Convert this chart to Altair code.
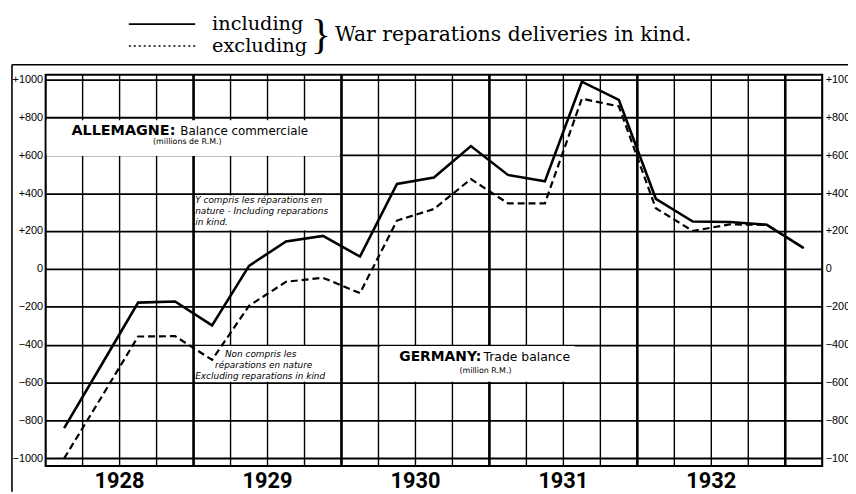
import altair as alt
import pandas as pd

# Quarterly data, Q1 1928 .. Q1 1933 (millions RM)
quarters = list(range(21))
including = [-840, -510, -178, -172, -298, 16, 145, 174, 65, 448, 482, 648,
             496, 462, 988, 892, 370, 250, 247, 233, 110]
excluding = [-1000, -680, -357, -355, -480, -195, -68, -47, -128, 255, 316, 474,
             346, 346, 898, 858, 320, 200, 235, 232, 110]
years = [1928, 1929, 1930, 1931, 1932]
y_ticks = list(range(-1000, 1001, 200))
x_grid = list(range(22))
year_bounds = [4, 8, 12, 16, 20]

df = pd.DataFrame({"q": [q + 0.5 for q in quarters],
                   "including": including, "excluding": excluding})
bounds_df = pd.DataFrame({"b": year_bounds})
grid_df = pd.DataFrame({"g": x_grid})
years_df = pd.DataFrame({"year": [str(y) for y in years],
                         "pos": [(y - years[0]) * 4 + 2 for y in years]})

W, H = 784, 395
xs = alt.Scale(domain=[0, 21], nice=False, zero=False)
ys = alt.Scale(domain=[-1040, 1025], nice=False, zero=False)
ylab = "datum.value > 0 ? '+' + datum.label : datum.label"

left_axis = alt.Chart(df).mark_point(opacity=0).encode(
    x=alt.X("q:Q", scale=xs, axis=None),
    y=alt.Y("including:Q", scale=ys, axis=alt.Axis(
        orient="left", values=y_ticks, format="d", labelExpr=ylab, grid=True,
        gridColor="black", gridWidth=1.8, gridOpacity=1, domain=False,
        ticks=False, labelPadding=3, labelFont="Liberation Sans",
        labelFontSize=11, labelColor="black", title=None)),
)

right_axis = alt.Chart(df).mark_point(opacity=0).encode(
    x=alt.X("q:Q", scale=xs, axis=None),
    y=alt.Y("excluding:Q", scale=ys, axis=alt.Axis(
        orient="right", values=y_ticks, format="d", labelExpr=ylab, grid=False,
        domain=False, ticks=False, labelPadding=3, labelFont="Liberation Sans",
        labelFontSize=11, labelColor="black", title=None)),
)

thin_rules = alt.Chart(grid_df).mark_rule(color="black", strokeWidth=1.4).encode(
    x=alt.X("g:Q", scale=xs, axis=None), y=alt.value(0), y2=alt.value(H))

bold_rules = alt.Chart(bounds_df).mark_rule(color="black", strokeWidth=2.6).encode(
    x=alt.X("b:Q", scale=xs, axis=None), y=alt.value(0), y2=alt.value(H))

year_labels = alt.Chart(years_df).mark_text(
    font="Roboto", fontSize=22, fontWeight="bold", color="black",
    baseline="middle", align="center").encode(
    x=alt.X("pos:Q", scale=xs, axis=None), y=alt.value(H + 15), text="year:N")

dummy = alt.Data(values=[{}])


def box(x1, y1, x2, y2):
    return alt.Chart(dummy).mark_rect(color="white").encode(
        x=alt.value(x1), x2=alt.value(x2), y=alt.value(y1), y2=alt.value(y2))


def txt(s, x, y, size, font="DejaVu Sans", weight="normal", style="normal",
        align="left", baseline="middle"):
    return alt.Chart(dummy).mark_text(
        text=s, align=align, baseline=baseline, font=font, fontSize=size,
        fontWeight=weight, fontStyle=style, color="black").encode(
        x=alt.value(x), y=alt.value(y))


def hrule(x1, x2, y, width, dash=None):
    kw = dict(color="black", strokeWidth=width)
    if dash:
        kw["strokeDash"] = dash
    return alt.Chart(dummy).mark_rule(**kw).encode(
        x=alt.value(x1), x2=alt.value(x2), y=alt.value(y))


boxes = [
    box(1, 46, 297, 82),      # ALLEMAGNE title
    box(151, 122, 297, 157),  # Y compris ...
    box(151, 274, 297, 310),  # Non compris ...
    box(338, 274, 534, 310),  # GERMANY title
]

dashed = alt.Chart(df).mark_line(color="black", strokeWidth=2.2, strokeDash=[7, 4]).encode(
    x=alt.X("q:Q", scale=xs, axis=None), y=alt.Y("excluding:Q", scale=ys, axis=None))
solid = alt.Chart(df).mark_line(color="black", strokeWidth=2.6).encode(
    x=alt.X("q:Q", scale=xs, axis=None), y=alt.Y("including:Q", scale=ys, axis=None))

texts = [
    txt("ALLEMAGNE:", 26, 57, 14.5, weight="bold"),
    txt("Balance commerciale", 136, 57, 12),
    txt("(millions de R.M.)", 143, 68, 8, align="center"),
    txt("Y compris les réparations en", 151, 127, 9, style="italic"),
    txt("nature - Including reparations", 151, 138, 9, style="italic"),
    txt("in kind.", 151, 149, 9, style="italic"),
    txt("Non compris les", 181, 282, 9, style="italic"),
    txt("réparations en nature", 171, 293, 9, style="italic"),
    txt("Excluding reparations in kind", 151, 304, 9, style="italic"),
    txt("GERMANY:", 357, 285, 14, weight="bold"),
    txt("Trade balance", 442, 285, 12.5),
    txt("(million R.M.)", 444, 299, 8, align="center"),
    # header legend
    txt("including", 168, -51, 19.5, font="DejaVu Serif"),
    txt("excluding", 168, -29, 19.5, font="DejaVu Serif"),
    txt("}", 268, -40, 42, font="Liberation Serif"),
    txt("War reparations deliveries in kind.", 292, -40, 20.5, font="DejaVu Serif"),
]

legend_lines = [
    hrule(84, 151, -51, 1.6),
    hrule(84, 151, -29, 1.6, dash=[2, 3]),
]

frame = [
    alt.Chart(dummy).mark_rule(color="black", strokeWidth=1.6).encode(
        x=alt.value(-34), y=alt.value(-10), y2=alt.value(421)),
    hrule(-34, 810, -10, 1.6),
]

chart = alt.layer(
    left_axis, right_axis, thin_rules, bold_rules, *boxes, dashed, solid,
    year_labels, *texts, *legend_lines, *frame
).resolve_axis(y="independent").properties(
    width=W, height=H,
    padding={"left": 38, "top": 65, "right": 26, "bottom": 24},
    autosize=alt.AutoSizeParams(type="none"),
    background="white",
).configure_view(stroke="black", strokeWidth=2)

chart.save("out.html", embed_options={"renderer": "svg", "actions": False})
